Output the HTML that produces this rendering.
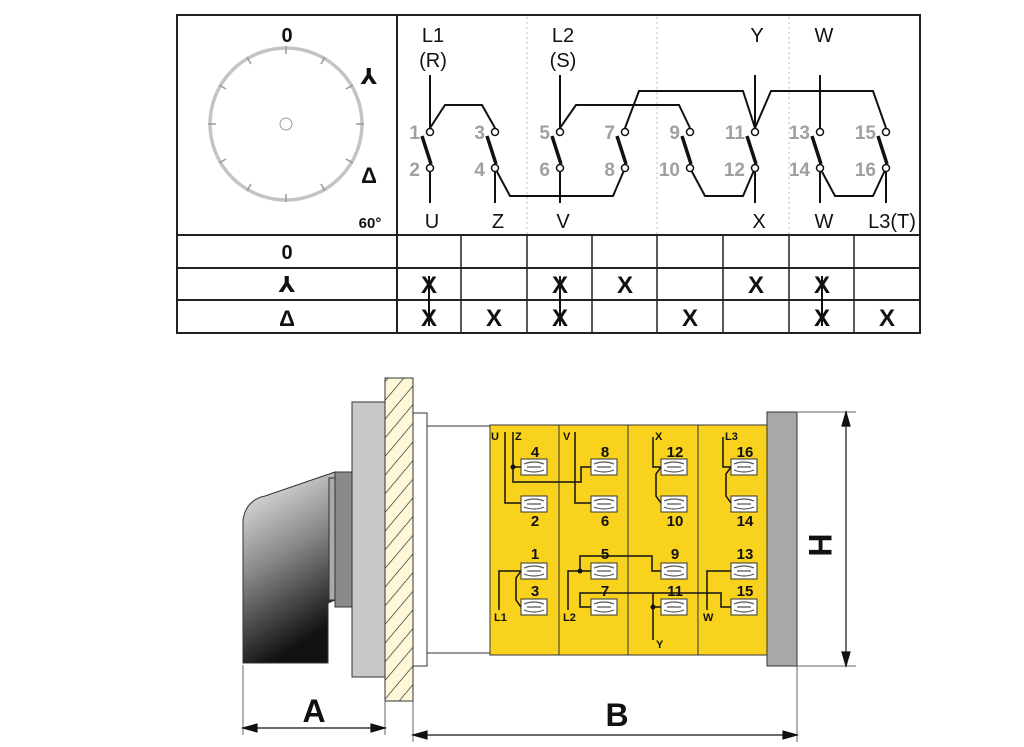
<!DOCTYPE html>
<html><head><meta charset="utf-8"><style>
html,body{margin:0;padding:0;background:#fff;}
svg{display:block;}
text{font-family:"Liberation Sans","DejaVu Sans",sans-serif;}
</style></head><body>
<svg width="1024" height="747" viewBox="0 0 1024 747" xmlns="http://www.w3.org/2000/svg">
<defs>
<pattern id="hatch" width="12" height="12" patternUnits="userSpaceOnUse" patternTransform="rotate(40)">
<rect width="12" height="12" fill="#fdf8d8"/><line x1="0" y1="0" x2="0" y2="12" stroke="#222" stroke-width="1.3"/>
</pattern>
<linearGradient id="knob" x1="0" y1="0" x2="0.3" y2="1">
<stop offset="0" stop-color="#f2f2f2"/><stop offset="0.5" stop-color="#8a8a8a"/><stop offset="1" stop-color="#111"/>
</linearGradient>
<g id="term"><rect x="0" y="0" width="26" height="16" fill="#fff" stroke="#333" stroke-width="1"/><path d="M3 5 Q13 1 23 5 M3 11 Q13 15 23 11 M6 8 H20" stroke="#555" stroke-width="1.2" fill="none"/></g>
</defs>

<g stroke="#222" stroke-width="2" fill="none">
<rect x="177" y="15" width="743" height="318"/>
<line x1="397" y1="15" x2="397" y2="333"/>
<line x1="177" y1="235" x2="920" y2="235"/>
<line x1="177" y1="268" x2="920" y2="268"/>
<line x1="177" y1="300" x2="920" y2="300"/>
<g stroke-width="1.5">
<line x1="461" y1="235" x2="461" y2="333"/><line x1="527" y1="235" x2="527" y2="333"/>
<line x1="592" y1="235" x2="592" y2="333"/><line x1="657" y1="235" x2="657" y2="333"/>
<line x1="723" y1="235" x2="723" y2="333"/><line x1="789" y1="235" x2="789" y2="333"/>
<line x1="854" y1="235" x2="854" y2="333"/>
</g>
</g>
<g stroke="#bbb" stroke-width="1" stroke-dasharray="2,3">
<line x1="527" y1="17" x2="527" y2="234"/><line x1="657" y1="17" x2="657" y2="234"/><line x1="789" y1="17" x2="789" y2="234"/>
</g>

<circle cx="286" cy="124" r="76" fill="none" stroke="#c4c4c4" stroke-width="3.5"/>
<circle cx="286" cy="124" r="6" fill="none" stroke="#999" stroke-width="1"/>
<g stroke="#999" stroke-width="1.5">
<line x1="286" y1="46" x2="286" y2="54"/><line x1="286" y1="194" x2="286" y2="202"/>
<line x1="208" y1="124" x2="216" y2="124"/><line x1="356" y1="124" x2="364" y2="124"/>
<line x1="247" y1="57" x2="251" y2="64"/><line x1="325" y1="57" x2="321" y2="64"/>
<line x1="219" y1="85" x2="226" y2="89"/><line x1="353" y1="85" x2="346" y2="89"/>
<line x1="219" y1="163" x2="226" y2="159"/><line x1="353" y1="163" x2="346" y2="159"/>
<line x1="247" y1="191" x2="251" y2="184"/><line x1="325" y1="191" x2="321" y2="184"/>
</g>
<g font-weight="bold" fill="#111" text-anchor="middle">
<text x="287" y="42" font-size="20">0</text>
<text x="369" y="84" font-size="22" font-family="DejaVu Sans">⅄</text>
<text x="369" y="183" font-size="22">Δ</text>
<text x="370" y="228" font-size="15">60°</text>
<text x="287" y="259" font-size="20">0</text>
<text x="287" y="292" font-size="22" font-family="DejaVu Sans">⅄</text>
<text x="287" y="326" font-size="22">Δ</text>
</g>

<g font-size="24" font-weight="bold" fill="#111" text-anchor="middle">
<text x="429" y="293">X</text><text x="560" y="293">X</text><text x="625" y="293">X</text><text x="756" y="293">X</text><text x="822" y="293">X</text>
<text x="429" y="326">X</text><text x="494" y="326">X</text><text x="560" y="326">X</text><text x="690" y="326">X</text><text x="822" y="326">X</text><text x="887" y="326">X</text>
</g>
<g stroke="#111" stroke-width="2"><line x1="429" y1="276" x2="429" y2="326"/><line x1="560" y1="276" x2="560" y2="326"/><line x1="822" y1="276" x2="822" y2="326"/></g>

<g stroke="#111" stroke-width="2" fill="none">
<line x1="430" y1="75" x2="430" y2="128"/>
<polyline points="430,128 445,105 482,105 495,128"/>
<line x1="560" y1="75" x2="560" y2="128"/>
<polyline points="560,128 576,105 679,105 690,128"/>
<polyline points="625,128 639,91 743,91 755,128"/>
<line x1="755" y1="75" x2="755" y2="128"/>
<polyline points="755,128 771,91 873,91 886,128"/>
<line x1="820" y1="75" x2="820" y2="128"/>
<line x1="430" y1="172" x2="430" y2="203"/>
<line x1="495" y1="172" x2="495" y2="203"/>
<polyline points="495,168 510,196 613,196 625,168"/>
<line x1="560" y1="172" x2="560" y2="203"/>
<polyline points="690,168 705,196 743,196 755,168"/>
<line x1="755" y1="172" x2="755" y2="203"/>
<polyline points="820,168 835,196 873,196 886,168"/>
<line x1="820" y1="172" x2="820" y2="203"/>
<line x1="886" y1="172" x2="886" y2="203"/>
</g>
<g stroke="#111" stroke-width="3.5">
<line x1="422" y1="136" x2="431" y2="164"/><line x1="487" y1="136" x2="496" y2="164"/>
<line x1="552" y1="136" x2="561" y2="164"/><line x1="617" y1="136" x2="626" y2="164"/>
<line x1="682" y1="136" x2="691" y2="164"/><line x1="747" y1="136" x2="756" y2="164"/>
<line x1="812" y1="136" x2="821" y2="164"/><line x1="878" y1="136" x2="887" y2="164"/>
</g>
<g fill="#fff" stroke="#111" stroke-width="1.5">
<circle cx="430" cy="132" r="3.5"/><circle cx="495" cy="132" r="3.5"/><circle cx="560" cy="132" r="3.5"/><circle cx="625" cy="132" r="3.5"/>
<circle cx="690" cy="132" r="3.5"/><circle cx="755" cy="132" r="3.5"/><circle cx="820" cy="132" r="3.5"/><circle cx="886" cy="132" r="3.5"/>
<circle cx="430" cy="168" r="3.5"/><circle cx="495" cy="168" r="3.5"/><circle cx="560" cy="168" r="3.5"/><circle cx="625" cy="168" r="3.5"/>
<circle cx="690" cy="168" r="3.5"/><circle cx="755" cy="168" r="3.5"/><circle cx="820" cy="168" r="3.5"/><circle cx="886" cy="168" r="3.5"/>
</g>
<g font-size="19" font-weight="bold" fill="#a0a0a0" text-anchor="end">
<text x="420" y="139">1</text><text x="485" y="139">3</text><text x="550" y="139">5</text><text x="615" y="139">7</text>
<text x="680" y="139">9</text><text x="745" y="139">11</text><text x="810" y="139">13</text><text x="876" y="139">15</text>
<text x="420" y="176">2</text><text x="485" y="176">4</text><text x="550" y="176">6</text><text x="615" y="176">8</text>
<text x="680" y="176">10</text><text x="745" y="176">12</text><text x="810" y="176">14</text><text x="876" y="176">16</text>
</g>
<g font-size="20" fill="#111" text-anchor="middle">
<text x="433" y="42">L1</text><text x="433" y="67">(R)</text>
<text x="563" y="42">L2</text><text x="563" y="67">(S)</text>
<text x="757" y="42">Y</text><text x="824" y="42">W</text>
<text x="432" y="228">U</text><text x="498" y="228">Z</text><text x="563" y="228">V</text>
<text x="759" y="228">X</text><text x="824" y="228">W</text><text x="892" y="228">L3(T)</text>
</g>

<path d="M243,663 L243,520 Q246,500 265,496 L335,472 L335,600 L328,603 L328,663 Z" fill="url(#knob)" stroke="#333" stroke-width="1"/>
<rect x="329" y="478" width="6" height="122" fill="#aaa" stroke="#333" stroke-width="1"/>
<rect x="335" y="472" width="17" height="135" fill="#8a8a8a" stroke="#333" stroke-width="1"/>
<rect x="352" y="402" width="33" height="275" fill="#c8c8c8" stroke="#333" stroke-width="1"/>
<rect x="385" y="378" width="28" height="323" fill="url(#hatch)" stroke="#333" stroke-width="1"/>
<rect x="413" y="413" width="14" height="253" fill="#fff" stroke="#333" stroke-width="1"/>
<rect x="427" y="426" width="63" height="227" fill="#fff" stroke="#333" stroke-width="1"/>
<rect x="490" y="425" width="277" height="230" fill="#f8d21c" stroke="#333" stroke-width="1"/>
<g stroke="#333" stroke-width="1"><line x1="559" y1="425" x2="559" y2="655"/><line x1="628" y1="425" x2="628" y2="655"/><line x1="698" y1="425" x2="698" y2="655"/></g>
<rect x="767" y="412" width="30" height="254" fill="#a8a8a8" stroke="#333" stroke-width="1"/>

<g stroke="#111" stroke-width="1.5" fill="none">
<polyline points="505,432 505,503 521,503"/>
<polyline points="513,432 513,482 581,482 581,467 591,467"/>
<line x1="513" y1="467" x2="521" y2="467"/>
<polyline points="575,432 575,503 591,503"/>
<polyline points="653,437 653,467 661,467 656,474 656,496 661,503"/>
<polyline points="723,437 723,467 731,467 726,474 726,496 731,503"/>
<polyline points="499,610 499,571 521,571 516,578 516,600 521,607"/>
<polyline points="591,571 580,571 580,556 652,556 652,571 661,571"/>
<polyline points="580,571 568,571 568,610"/>
<polyline points="591,607 580,607 580,593 721,593 721,607 731,607"/>
<polyline points="653,593 653,640"/><line x1="653" y1="607" x2="661" y2="607"/>
<polyline points="707,610 707,571 731,571"/>
</g>
<g fill="#111"><circle cx="513" cy="467" r="2.5"/><circle cx="580" cy="571" r="2.5"/><circle cx="653" cy="607" r="2.5"/></g>
<use href="#term" x="521" y="459"/><use href="#term" x="521" y="496"/><use href="#term" x="521" y="563"/><use href="#term" x="521" y="599"/>
<use href="#term" x="591" y="459"/><use href="#term" x="591" y="496"/><use href="#term" x="591" y="563"/><use href="#term" x="591" y="599"/>
<use href="#term" x="661" y="459"/><use href="#term" x="661" y="496"/><use href="#term" x="661" y="563"/><use href="#term" x="661" y="599"/>
<use href="#term" x="731" y="459"/><use href="#term" x="731" y="496"/><use href="#term" x="731" y="563"/><use href="#term" x="731" y="599"/>
<g font-size="15" font-weight="bold" fill="#111" text-anchor="middle">
<text x="535" y="457">4</text><text x="605" y="457">8</text><text x="675" y="457">12</text><text x="745" y="457">16</text>
<text x="535" y="526">2</text><text x="605" y="526">6</text><text x="675" y="526">10</text><text x="745" y="526">14</text>
<text x="535" y="559">1</text><text x="605" y="559">5</text><text x="675" y="559">9</text><text x="745" y="559">13</text>
<text x="535" y="596">3</text><text x="605" y="596">7</text><text x="675" y="596">11</text><text x="745" y="596">15</text>
</g>
<g font-size="11" font-weight="bold" fill="#111">
<text x="491" y="440">U</text><text x="515" y="440">Z</text><text x="563" y="440">V</text><text x="655" y="440">X</text><text x="725" y="440">L3</text>
<text x="494" y="621">L1</text><text x="563" y="621">L2</text><text x="703" y="621">W</text><text x="656" y="648">Y</text>
</g>

<g stroke="#666" stroke-width="1">
<line x1="243" y1="665" x2="243" y2="735"/><line x1="385" y1="701" x2="385" y2="735"/>
<line x1="413" y1="701" x2="413" y2="742"/><line x1="797" y1="666" x2="797" y2="742"/>
<line x1="797" y1="412" x2="856" y2="412"/><line x1="797" y1="666" x2="856" y2="666"/>
</g>
<g stroke="#111" stroke-width="1.2" fill="#111">
<line x1="243" y1="728" x2="385" y2="728"/>
<path d="M243,728 l14,-4 v8 z M385,728 l-14,-4 v8 z"/>
<line x1="413" y1="735" x2="797" y2="735"/>
<path d="M413,735 l14,-4 v8 z M797,735 l-14,-4 v8 z"/>
<line x1="846" y1="412" x2="846" y2="666"/>
<path d="M846,412 l-4,14 h8 z M846,666 l-4,-14 h8 z"/>
</g>
<g font-size="32" font-weight="bold" fill="#111" text-anchor="middle">
<text x="314" y="722">A</text><text x="617" y="726">B</text>
<text x="820" y="545" transform="rotate(90 820 545)" dy="11">H</text>
</g>
</svg>
</body></html>
